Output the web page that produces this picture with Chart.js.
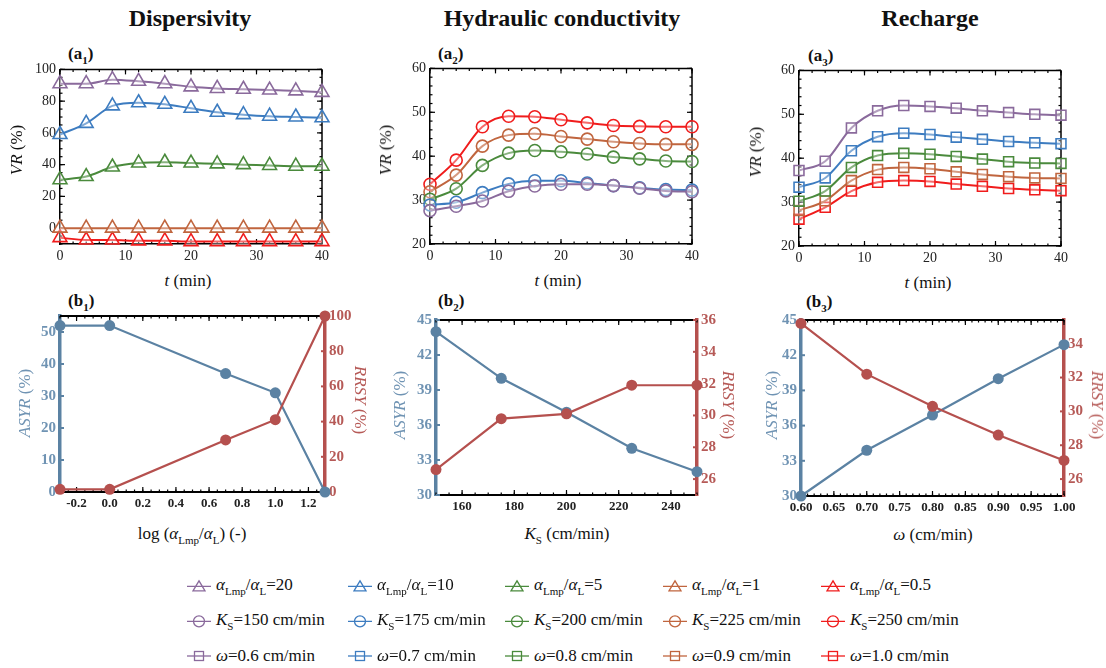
<!DOCTYPE html>
<html>
<head>
<meta charset="utf-8">
<script src="https://cdn.jsdelivr.net/npm/chart.js@4.4.1/dist/chart.umd.min.js"></script>
<style>
  body { margin: 0; width: 1106px; height: 668px; background: #fff; position: relative; overflow: hidden;
         font-family: "Liberation Serif", "Tinos", "DejaVu Serif", serif; color: #111; }
  .box { position: absolute; }
  .title { position: absolute; top: 5px; font-weight: bold; font-size: 24px; transform: translateX(-50%); white-space: nowrap; }
  .plab { position: absolute; font-weight: bold; font-size: 17px; transform: translateY(-50%); }
  .plab sub { font-size: 11px; }
  .ax { position: absolute; font-size: 17px; white-space: nowrap; transform: translate(-50%, -50%); }
  .ax.rl { transform: translate(-50%, -50%) rotate(-90deg); }
  .ax.rr { transform: translate(-50%, -50%) rotate(90deg); }
  .ax sub, .leg sub { font-size: 11px; font-style: normal; }
  .leg { position: absolute; display: flex; align-items: center; font-size: 17px; white-space: nowrap; transform: translateY(-50%); }
  .leg svg { margin-right: 5px; }
  i { font-style: italic; }
</style>
</head>
<body>
<div class="title" style="left:190px">Dispersivity</div>
<div class="title" style="left:562px">Hydraulic conductivity</div>
<div class="title" style="left:930px">Recharge</div>

<div class="plab" style="left:68px;top:55px">(a<sub>1</sub>)</div>
<div class="plab" style="left:438px;top:55px">(a<sub>2</sub>)</div>
<div class="plab" style="left:808px;top:57px">(a<sub>3</sub>)</div>
<div class="plab" style="left:68px;top:302px">(b<sub>1</sub>)</div>
<div class="plab" style="left:438px;top:302px">(b<sub>2</sub>)</div>
<div class="plab" style="left:806px;top:303px">(b<sub>3</sub>)</div>

<div class="box" id="a1"><canvas></canvas></div>
<div class="box" id="a2"><canvas></canvas></div>
<div class="box" id="a3"><canvas></canvas></div>
<div class="box" id="b1"><canvas></canvas></div>
<div class="box" id="b2"><canvas></canvas></div>
<div class="box" id="b3"><canvas></canvas></div>

<div class="ax rl" style="left:17px;top:150px"><i>VR</i> (%)</div>
<div class="ax rl" style="left:386px;top:150px"><i>VR</i> (%)</div>
<div class="ax rl" style="left:756px;top:152px"><i>VR</i> (%)</div>
<div class="ax" style="left:188px;top:281px"><i>t</i> (min)</div>
<div class="ax" style="left:558px;top:281px"><i>t</i> (min)</div>
<div class="ax" style="left:928px;top:283px"><i>t</i> (min)</div>

<div class="ax rl" style="left:25px;top:403px;color:#6f93b3"><i>ASYR</i> (%)</div>
<div class="ax rr" style="left:360px;top:400px;color:#b65a57"><i>RRSY</i> (%)</div>
<div class="ax rl" style="left:400px;top:405px;color:#6f93b3"><i>ASYR</i> (%)</div>
<div class="ax rr" style="left:728px;top:405px;color:#b65a57"><i>RRSY</i> (%)</div>
<div class="ax rl" style="left:772px;top:405px;color:#6f93b3"><i>ASYR</i> (%)</div>
<div class="ax rr" style="left:1097px;top:405px;color:#b65a57"><i>RRSY</i> (%)</div>
<div class="ax" style="left:192px;top:535px">log (<i>α</i><sub>Lmp</sub>/<i>α</i><sub>L</sub>) (-)</div>
<div class="ax" style="left:567px;top:535px"><i>K</i><sub>S</sub> (cm/min)</div>
<div class="ax" style="left:933px;top:535px"><i>ω</i> (cm/min)</div>

<div id="legend"></div>

<script>
// ---- data ----
const tMin = [0, 4, 8, 12, 16, 20, 24, 28, 32, 36, 40];

const dispRatios = ["20", "10", "5", "1", "0.5"];
const disp20 = [91, 91, 93.5, 92.5, 91, 89, 88, 87.5, 87, 86.5, 85.5];
const disp10 = [59, 66, 77, 79, 78, 75.5, 73, 71.5, 70.5, 70, 69.5];
const disp5  = [30.5, 32.5, 38.5, 41, 41.5, 41, 40.5, 40, 39.5, 39, 39];
const disp1  = [0, 0, 0, 0, 0, 0, 0, 0, 0, 0, 0];
const disp05 = [-6, -7.5, -7.5, -8, -8, -8.5, -8.5, -8.5, -8.5, -8.5, -8.5];

const ksLabels = ["150", "175", "200", "225", "250"];
const ks150 = [27.6, 28.6, 29.8, 32.0, 33.2, 33.6, 33.6, 33.3, 32.7, 32.1, 31.9];
const ks175 = [28.9, 29.5, 31.7, 33.7, 34.4, 34.4, 33.9, 33.3, 32.8, 32.4, 32.3];
const ks200 = [30.2, 32.6, 37.9, 40.7, 41.3, 41.0, 40.5, 39.8, 39.4, 38.9, 38.8];
const ks225 = [31.9, 35.7, 42.3, 44.8, 45.1, 44.5, 43.9, 43.3, 42.9, 42.7, 42.7];
const ks250 = [33.6, 39.1, 46.7, 49.1, 49.0, 48.3, 47.6, 47.0, 46.8, 46.7, 46.7];

const omegaLabels = ["0.6", "0.7", "0.8", "0.9", "1.0"];
const w06 = [37.2, 39.3, 46.9, 50.8, 52.0, 51.8, 51.4, 50.8, 50.4, 50.0, 49.8];
const w07 = [33.4, 35.5, 41.7, 44.9, 45.7, 45.4, 44.8, 44.3, 43.8, 43.5, 43.3];
const w08 = [30.2, 32.5, 37.9, 40.6, 41.1, 40.9, 40.4, 39.8, 39.2, 38.9, 38.8];
const w09 = [28.1, 30.3, 34.9, 37.4, 37.9, 37.6, 36.9, 36.3, 35.8, 35.5, 35.4];
const w10 = [26.1, 28.8, 32.5, 34.5, 34.9, 34.7, 34.1, 33.6, 33.1, 32.8, 32.6];

const logRatio = [-0.3, 0, 0.7, 1.0, 1.3];
const asyrDisp = [52, 52, 37, 31, 0];
const rrsyDisp = [1.5, 1.5, 29.6, 41.1, 100];

const ksVals = [150, 175, 200, 225, 250];
const asyrKs = [44, 40, 37.1, 34, 32];
const rrsyKs = [26.6, 29.8, 30.1, 31.9, 31.9];

const omegaVals = [0.6, 0.7, 0.8, 0.9, 1.0];
const asyrW = [30, 33.9, 36.9, 40, 42.9];
const rrsyW = [35.2, 32.2, 30.3, 28.6, 27.1];

const colors = ["#8a6a9c", "#3d7cc0", "#4a8a3c", "#c0653e", "#f01c1c"];
const asyrColor = "#5b82a3", rrsyColor = "#b5504e";
const asyrText = "#6f93b3", rrsyText = "#b65a57";

// ---- helpers ----
const range = (a, b, s) => {
  const out = [];
  for (let v = a; v <= b + 1e-9; v += s) out.push(+v.toFixed(4));
  return out;
};
const fixTicks = vals => s => { s.ticks = vals.map(v => ({ value: v })); };

// frame lines + inward ticks
const frameTicks = {
  id: "frameTicks",
  beforeDatasetsDraw(chart, args, o) {
    const { ctx, chartArea: a } = chart;
    ctx.save();
    (o.lines || []).forEach(L => {
      ctx.strokeStyle = L.color; ctx.lineWidth = L.width;
      ctx.beginPath();
      if (L.side === "top") { ctx.moveTo(a.left, a.top); ctx.lineTo(a.right, a.top); }
      if (L.side === "right") { ctx.moveTo(a.right, a.top); ctx.lineTo(a.right, a.bottom); }
      ctx.stroke();
    });
    (o.marks || []).forEach(m => {
      const s = chart.scales[m.scale];
      ctx.strokeStyle = m.color; ctx.lineWidth = m.width || 1.2;
      [[m.minor, m.len * 0.5], [m.major, m.len]].forEach(([vals, len]) => {
        vals.forEach(v => {
          const p = s.getPixelForValue(v);
          m.sides.forEach(side => {
            ctx.beginPath();
            if (side === "bottom") { ctx.moveTo(p, a.bottom); ctx.lineTo(p, a.bottom - len); }
            if (side === "top") { ctx.moveTo(p, a.top); ctx.lineTo(p, a.top + len); }
            if (side === "left") { ctx.moveTo(a.left, p); ctx.lineTo(a.left + len, p); }
            if (side === "right") { ctx.moveTo(a.right, p); ctx.lineTo(a.right - len, p); }
            ctx.stroke();
          });
        });
      });
    });
    ctx.restore();
  }
};
Chart.register(frameTicks);

function place(id, area, wL, wR, padTop, hB) {
  const el = document.getElementById(id);
  el.style.left = (area.l - wL) + "px";
  el.style.top = (area.t - padTop) + "px";
  el.style.width = (area.r + wR - (area.l - wL)) + "px";
  el.style.height = (area.b + hB - (area.t - padTop)) + "px";
  return el.querySelector("canvas");
}

const serif = "'Liberation Serif', Tinos, 'DejaVu Serif', serif";

// ---- VR panels (a) ----
function vrPanel(id, area, series, shape, radius, yMin, yMax, yMajor, yMinorStep) {
  const canvas = place(id, area, 45, 16, 12, 24);
  new Chart(canvas, {
    type: "line",
    data: {
      datasets: series.map((s, k) => ({
        data: tMin.map((t, i) => ({ x: t, y: s[i] })),
        borderColor: colors[k],
        backgroundColor: "rgba(255,255,255,0.35)",
        pointBorderColor: colors[k],
        pointBackgroundColor: "rgba(255,255,255,0.35)",
        pointStyle: shape,
        pointRadius: radius,
        pointBorderWidth: 1.6,
        borderWidth: 2,
        cubicInterpolationMode: "monotone",
        clip: false
      }))
    },
    options: {
      animation: false,
      responsive: true,
      maintainAspectRatio: false,
      events: [],
      layout: { padding: { top: 12, right: 16, left: 0, bottom: 0 } },
      plugins: {
        legend: { display: false },
        tooltip: { enabled: false },
        frameTicks: {
          lines: [{ side: "top", color: "#000", width: 1.5 }, { side: "right", color: "#000", width: 1.5 }],
          marks: [
            { scale: "x", sides: ["bottom", "top"], major: range(0, 40, 10), minor: range(0, 40, 2), len: 5, color: "#000" },
            { scale: "y", sides: ["left", "right"], major: yMajor, minor: range(yMin, yMax, yMinorStep), len: 5, color: "#000" }
          ]
        }
      },
      scales: {
        x: {
          type: "linear", min: 0, max: 40,
          afterBuildTicks: fixTicks(range(0, 40, 10)),
          afterFit: s => { s.height = 24; },
          ticks: { font: { family: serif, size: 14 }, color: "#222", padding: 4, maxRotation: 0 },
          grid: { display: false, drawTicks: false },
          border: { color: "#000", width: 1.5 }
        },
        y: {
          type: "linear", min: yMin, max: yMax,
          afterBuildTicks: fixTicks(yMajor),
          afterFit: s => { s.width = 45; },
          ticks: { font: { family: serif, size: 14 }, color: "#222", padding: 4 },
          grid: { display: false, drawTicks: false },
          border: { color: "#000", width: 1.5 }
        }
      }
    }
  });
}

vrPanel("a1", { l: 60, t: 69, r: 322, b: 244 }, [disp20, disp10, disp5, disp1, disp05],
  "triangle", 8, -10, 100, range(0, 100, 20), 5);
vrPanel("a2", { l: 430, t: 68, r: 692, b: 244 }, [ks150, ks175, ks200, ks225, ks250],
  "circle", 6, 20, 60, range(20, 60, 10), 2);
vrPanel("a3", { l: 799, t: 70, r: 1061, b: 246 }, [w06, w07, w08, w09, w10],
  "rect", 7, 20, 60, range(20, 60, 10), 2);

// ---- ASYR / RRSY panels (b) ----
function dualPanel(id, area, xs, asyr, rrsy, xc, yc, y1c) {
  const canvas = place(id, area, 45, 40, 12, 24);
  const ds = (vals, color, axis) => ({
    data: xs.map((x, i) => ({ x: x, y: vals[i] })),
    yAxisID: axis,
    borderColor: color, backgroundColor: color,
    pointBackgroundColor: color, pointBorderColor: color,
    pointRadius: 5.5, pointBorderWidth: 0, borderWidth: 2.2,
    tension: 0, clip: false
  });
  const boldFont = { family: serif, size: 13, weight: "bold" };
  new Chart(canvas, {
    type: "line",
    data: { datasets: [ds(rrsy, rrsyColor, "y1"), ds(asyr, asyrColor, "y")] },
    options: {
      animation: false,
      responsive: true,
      maintainAspectRatio: false,
      events: [],
      layout: { padding: { top: 12, right: 0, left: 0, bottom: 0 } },
      plugins: {
        legend: { display: false },
        tooltip: { enabled: false },
        frameTicks: {
          lines: [{ side: "top", color: "#000", width: 2 }],
          marks: [
            { scale: "x", sides: ["bottom", "top"], major: xc.ticks, minor: range(xc.min, xc.max, xc.minor), len: 5, color: "#000" },
            { scale: "y", sides: ["left"], major: yc.ticks, minor: [], len: 4, color: asyrColor, width: 2 },
            { scale: "y1", sides: ["right"], major: y1c.ticks, minor: range(y1c.min, y1c.max, y1c.minor), len: 4, color: rrsyColor, width: 2 }
          ]
        }
      },
      scales: {
        x: {
          type: "linear", min: xc.min, max: xc.max,
          afterBuildTicks: fixTicks(xc.ticks),
          afterFit: s => { s.height = 24; },
          ticks: { font: boldFont, color: "#222", padding: 4, maxRotation: 0, callback: v => v.toFixed(xc.dec) },
          grid: { display: false, drawTicks: false },
          border: { color: "#000", width: 2 }
        },
        y: {
          type: "linear", position: "left", min: yc.min, max: yc.max,
          afterBuildTicks: fixTicks(yc.ticks),
          afterFit: s => { s.width = 45; },
          ticks: { font: { family: serif, size: 15, weight: "bold" }, color: asyrText, padding: 4 },
          grid: { display: false, drawTicks: false },
          border: { color: asyrColor, width: 3.5 }
        },
        y1: {
          type: "linear", position: "right", min: y1c.min, max: y1c.max,
          afterBuildTicks: fixTicks(y1c.ticks),
          afterFit: s => { s.width = 40; },
          ticks: { font: { family: serif, size: 15, weight: "bold" }, color: rrsyText, padding: 4 },
          grid: { display: false, drawTicks: false },
          border: { color: rrsyColor, width: 3.5 }
        }
      }
    }
  });
}

dualPanel("b1", { l: 60, t: 315, r: 325, b: 492 }, logRatio, asyrDisp, rrsyDisp,
  { min: -0.3, max: 1.3, ticks: range(-0.2, 1.2, 0.2), minor: 0.05, dec: 1 },
  { min: 0, max: 55, ticks: range(0, 50, 10) },
  { min: 0, max: 100, ticks: range(0, 100, 20), minor: 10 });
dualPanel("b2", { l: 436, t: 319, r: 697, b: 495 }, ksVals, asyrKs, rrsyKs,
  { min: 150, max: 250, ticks: range(160, 240, 20), minor: 5, dec: 0 },
  { min: 30, max: 45, ticks: range(30, 45, 3) },
  { min: 25, max: 36, ticks: range(26, 36, 2), minor: 1 });
dualPanel("b3", { l: 801, t: 319, r: 1064, b: 496 }, omegaVals, asyrW, rrsyW,
  { min: 0.6, max: 1.0, ticks: range(0.6, 1.0, 0.05), minor: 0.01, dec: 2 },
  { min: 30, max: 45, ticks: range(30, 45, 3) },
  { min: 25, max: 35.4, ticks: range(26, 34, 2), minor: 1 });

// ---- legend ----
const legCols = [199, 360, 517, 675, 833];
const legRows = [586, 621, 656];

function icon(shape, color) {
  let m = "";
  if (shape === "triangle") m = `<polygon points="12,1.5 6,11.5 18,11.5" fill="none" stroke="${color}" stroke-width="1.3"/>`;
  if (shape === "circle") m = `<circle cx="12" cy="7" r="5.5" fill="none" stroke="${color}" stroke-width="1.3"/>`;
  if (shape === "rect") m = `<rect x="7.5" y="2.5" width="9" height="9" fill="none" stroke="${color}" stroke-width="1.3"/>`;
  return `<svg width="24" height="14" viewBox="0 0 24 14"><line x1="0" y1="7" x2="24" y2="7" stroke="${color}" stroke-width="1.3"/>${m}</svg>`;
}

let html = "";
const rowsDef = [
  { shape: "triangle", labels: dispRatios.map(r => `<i>α</i><sub>Lmp</sub>/<i>α</i><sub>L</sub>=${r}`) },
  { shape: "circle", labels: ksLabels.map(k => `<i>K</i><sub>S</sub>=${k} cm/min`) },
  { shape: "rect", labels: omegaLabels.map(w => `<i>ω</i>=${w} cm/min`) }
];
rowsDef.forEach((row, r) => {
  row.labels.forEach((lab, c) => {
    html += `<div class="leg" style="left:${legCols[c] - 12}px;top:${legRows[r]}px">${icon(row.shape, colors[c])}<span>${lab}</span></div>`;
  });
});
document.getElementById("legend").innerHTML = html;
</script>
</body>
</html>
